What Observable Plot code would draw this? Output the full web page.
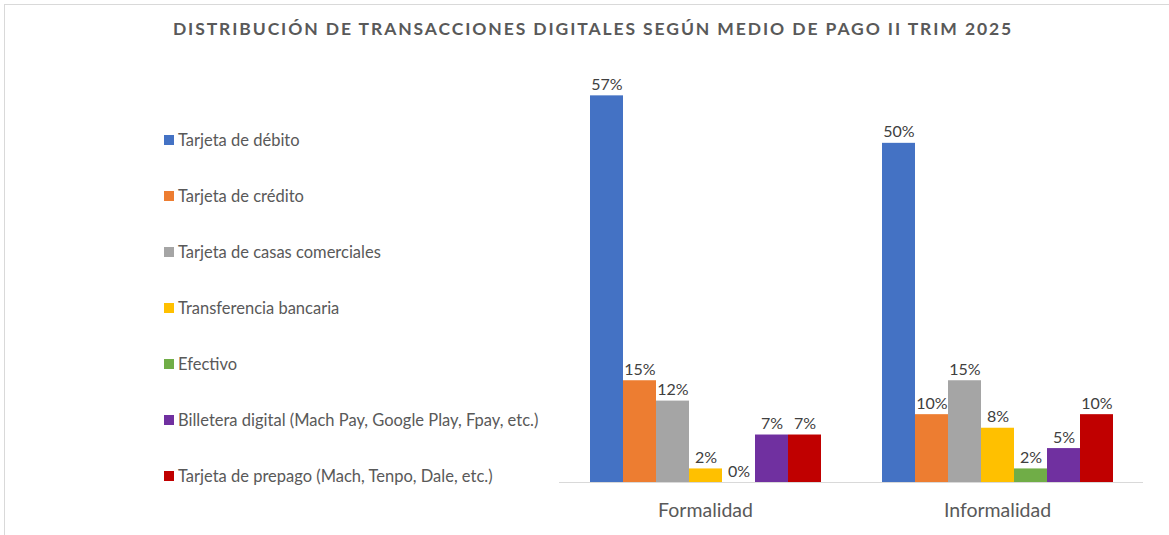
<!DOCTYPE html>
<html>
<head>
<meta charset="utf-8">
<script src="https://cdn.jsdelivr.net/npm/d3@7"></script>
<script src="https://cdn.jsdelivr.net/npm/@observablehq/plot@0.6"></script>
<style>
  html, body { margin: 0; padding: 0; background: #fff; }
  #wrap { position: relative; width: 1169px; height: 535px; font-family: Lato, "Open Sans", sans-serif; }
  #frame { position: absolute; left: 4px; top: 4px; width: 1170px; height: 540px; border: 1px solid #D9D9D9; box-sizing: border-box; }
  #title { position: absolute; left: 0; width: 1186px; top: 18px; text-align: center; font-size: 17.5px; font-weight: bold; letter-spacing: 1.9px; color: #595959; }
  #legend { position: absolute; left: 164px; top: 0; }
  .item { position: absolute; white-space: nowrap; font-size: 16.5px; color: #595959; display: flex; align-items: center; }
  .sw { width: 10px; height: 10px; margin-right: 4px; display: inline-block; }
  #chart { position: absolute; left: 0; top: 0; }
</style>
</head>
<body>
<div id="wrap">
  <div id="frame"></div>
  <div id="title"></div>
  <div id="legend"></div>
  <div id="chart"></div>
</div>
<script>
const title = "DISTRIBUCIÓN DE TRANSACCIONES DIGITALES SEGÚN MEDIO DE PAGO II TRIM 2025";
const groups = ["Formalidad", "Informalidad"];
const medios = [
  "Tarjeta de débito",
  "Tarjeta de crédito",
  "Tarjeta de casas comerciales",
  "Transferencia bancaria",
  "Efectivo",
  "Billetera digital (Mach Pay, Google Play, Fpay, etc.)",
  "Tarjeta de prepago (Mach, Tenpo, Dale, etc.)"
];
const colors = ["#4472C4", "#ED7D31", "#A5A5A5", "#FFC000", "#70AD47", "#7030A0", "#C00000"];
const formalidad = [57, 15, 12, 2, 0, 7, 7];
const informalidad = [50, 10, 15, 8, 2, 5, 10];

const data = [];
medios.forEach((m, i) => {
  data.push({grupo: groups[0], medio: m, valor: formalidad[i]});
  data.push({grupo: groups[1], medio: m, valor: informalidad[i]});
});

document.getElementById("title").textContent = title;
const legend = document.getElementById("legend");
medios.forEach((m, i) => {
  const d = document.createElement("div");
  d.className = "item";
  d.style.top = (130 + i * 56) + "px";
  d.innerHTML = `<span class="sw" style="background:${colors[i]}"></span><span>${m}</span>`;
  legend.appendChild(d);
});

const plot = Plot.plot({
  width: 1169,
  height: 535,
  marginLeft: 559,
  marginRight: 26,
  marginTop: 75,
  marginBottom: 53,
  style: {background: "transparent", fontFamily: "Lato, 'Open Sans', sans-serif"},
  fx: {domain: groups, padding: 0, label: null, axis: "bottom", tickSize: 0, tickPadding: 21},
  x: {domain: medios, paddingInner: 0, paddingOuter: 0.9, axis: null},
  y: {domain: [0, 60], axis: null},
  color: {domain: medios, range: colors},
  marks: [
    Plot.barY(data, {fx: "grupo", x: "medio", y: "valor", fill: "medio"}),
    Plot.ruleY([0], {stroke: "#D9D9D9", strokeWidth: 1}),
    Plot.text(data, {fx: "grupo", x: "medio", y: "valor", text: d => d.valor + "%", dy: -11, fontSize: 16, fill: "#404040"})
  ]
});
plot.querySelectorAll("g[aria-label='fx-axis tick label']").forEach(g => {
  g.setAttribute("font-size", "19.5");
  g.setAttribute("fill", "#595959");
});
document.getElementById("chart").appendChild(plot);
</script>
</body>
</html>
